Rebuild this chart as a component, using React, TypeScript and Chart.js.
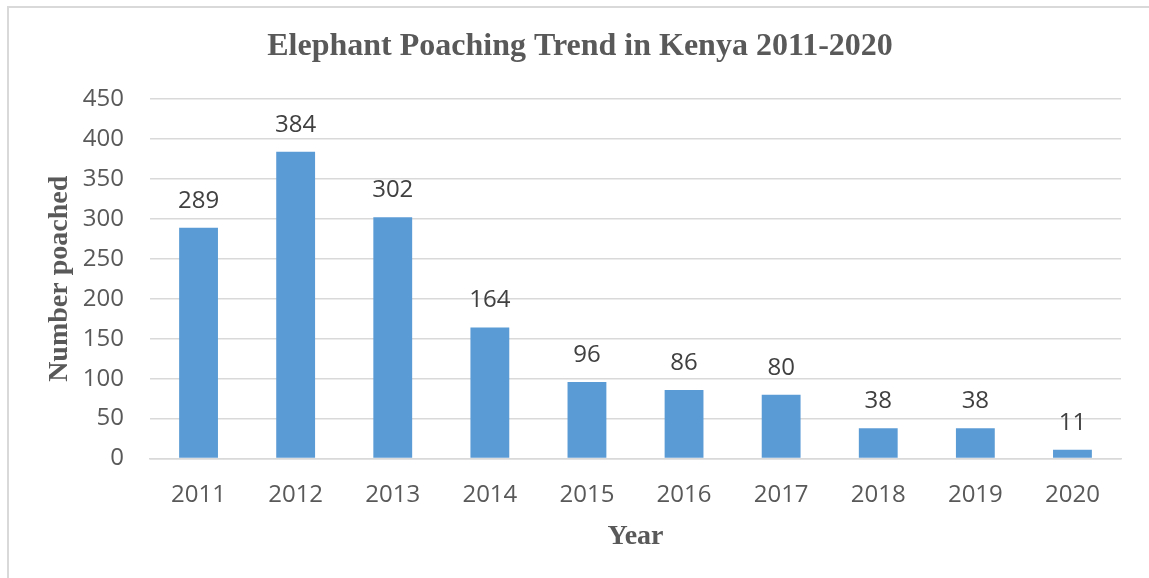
import React, { useEffect, useRef } from "react";
import { Chart, registerables } from "chart.js";

Chart.register(...registerables);

const years = ["2011", "2012", "2013", "2014", "2015", "2016", "2017", "2018", "2019", "2020"];
const poached = [289, 384, 302, 164, 96, 86, 80, 38, 38, 11];
const titleText = "Elephant Poaching Trend in Kenya 2011-2020";
const yTitle = "Number poached";
const xTitle = "Year";

const dataLabels = {
  id: "dataLabels",
  afterDatasetsDraw(chart: any) {
    const ctx = chart.ctx;
    const meta = chart.getDatasetMeta(0);
    ctx.save();
    ctx.font = "24px 'Open Sans'";
    ctx.fillStyle = "#404040";
    ctx.textAlign = "center";
    ctx.textBaseline = "middle";
    meta.data.forEach((bar: any, i: number) => {
      ctx.fillText(String(poached[i]), bar.x, bar.y - 27);
    });
    ctx.restore();
  },
};

export default function App() {
  const ref = useRef<HTMLCanvasElement>(null);
  useEffect(() => {
    const chart = new Chart(ref.current!, {
      type: "bar",
      data: {
        labels: years,
        datasets: [
          {
            data: poached,
            backgroundColor: "#5b9bd5",
            barPercentage: 0.4,
            categoryPercentage: 1,
          },
        ],
      },
      options: {
        responsive: false,
        animation: false,
        layout: { padding: { left: 39, right: 28, top: 0, bottom: 20 } },
        plugins: {
          legend: { display: false },
          tooltip: { enabled: false },
          title: {
            display: true,
            text: titleText,
            color: "#595959",
            font: { family: "'Liberation Serif'", size: 32, weight: "bold" },
            padding: { top: 28, bottom: 32.6 },
          },
        },
        scales: {
          x: {
            grid: { display: false, drawTicks: false },
            border: { color: "#d9d9d9", width: 1.5 },
            ticks: { color: "#595959", font: { family: "'Open Sans'", size: 24 }, padding: 22, maxRotation: 0 },
            title: {
              display: true,
              text: xTitle,
              color: "#595959",
              font: { family: "'Liberation Serif'", size: 28, weight: "bold" },
              padding: { top: -11, bottom: 4 },
            },
          },
          y: {
            min: 0,
            max: 450,
            afterFit: (s: any) => {
              s.width = 111;
            },
            grid: { color: "#d9d9d9", lineWidth: 1.5, drawTicks: false },
            border: { display: false },
            ticks: { stepSize: 50, color: "#595959", font: { family: "'Open Sans'", size: 24 }, padding: 26 },
            title: {
              display: true,
              text: yTitle,
              color: "#595959",
              font: { family: "'Liberation Serif'", size: 28, weight: "bold" },
              padding: { top: 4, bottom: 4 },
            },
          },
        },
      },
      plugins: [dataLabels],
    });
    return () => chart.destroy();
  }, []);
  return (
    <div style={{ position: "absolute", left: 0, top: 0, width: 1149, height: 578, background: "#fff" }}>
      <div
        style={{
          position: "absolute",
          left: 7,
          top: 6,
          width: 1160,
          height: 600,
          borderLeft: "2px solid #d9d9d9",
          borderTop: "2px solid #d9d9d9",
        }}
      />
      <canvas ref={ref} width={1149} height={578} style={{ position: "absolute", left: 0, top: 0 }} />
    </div>
  );
}
